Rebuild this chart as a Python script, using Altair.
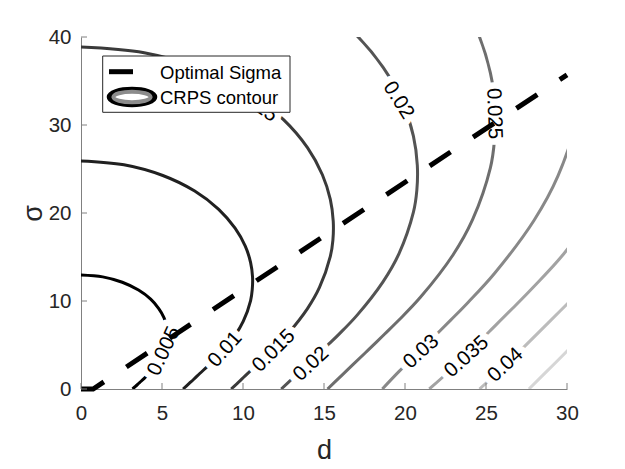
import altair as alt
import pandas as pd

FONT = "Liberation Sans"

levels = ["0.005", "0.01", "0.015", "0.02", "0.025", "0.03", "0.035", "0.04", "0.045"]
level_colors = ["#000000", "#202020", "#3a3a3a", "#545454", "#6e6e6e",
                "#888888", "#a2a2a2", "#bcbcbc", "#d6d6d6"]

# contour lines (d, sigma)
c005_d = [0, 1.34, 2.55, 3.55, 4.30, 4.80, 5.12, 5.28, 5.35, 5.34, 5.28, 5.06, 4.80, 4.38, 4.10, 3.92, 3.71, 3.51, 3.38, 3.18]
c005_s = [12.96, 12.74, 12.13, 11.24, 10.21, 9.14, 8.12, 7.18, 6.36, 5.64, 5.03, 3.85, 3.05, 2.08, 1.56, 1.24, 0.88, 0.56, 0.32, 0]
c010_d = [0, 2.65, 5.05, 7.02, 8.50, 9.51, 10.14, 10.47, 10.59, 10.57, 10.47, 10.02, 9.51, 8.68, 8.12, 7.76, 7.33, 6.96, 6.68, 6.30]
c010_s = [25.92, 25.48, 24.26, 22.49, 20.41, 18.27, 16.23, 14.37, 12.72, 11.28, 10.05, 7.70, 6.09, 4.17, 3.12, 2.49, 1.76, 1.11, 0.64, 0]
c015_d = [0, 3.90, 7.43, 10.33, 12.50, 13.99, 14.90, 15.39, 15.57, 15.55, 15.39, 14.72, 13.98, 12.76, 11.95, 11.41, 10.79, 10.23, 9.83, 9.27]
c015_s = [38.87, 38.22, 36.40, 33.73, 30.62, 27.41, 24.35, 21.55, 19.07, 16.93, 15.08, 11.54, 9.14, 6.25, 4.68, 3.73, 2.64, 1.67, 0.96, 0]
c020_d = [9.90, 13.77, 16.66, 18.65, 19.87, 20.52, 20.76, 20.73, 20.52, 19.63, 18.64, 17.02, 15.93, 15.22, 14.39, 13.64, 13.10, 12.36]
c020_s = [48.53, 44.97, 40.82, 36.55, 32.46, 28.73, 25.43, 22.57, 20.10, 15.39, 12.18, 8.34, 6.24, 4.97, 3.52, 2.23, 1.28, 0]
c025_d = [20.52, 22.96, 24.47, 25.27, 25.57, 25.52, 25.27, 24.17, 22.96, 20.95, 19.61, 18.73, 17.72, 16.80, 16.13, 15.22]
c025_s = [51.03, 45.69, 40.58, 35.92, 31.79, 28.21, 25.13, 19.24, 15.23, 10.42, 7.81, 6.22, 4.41, 2.79, 1.61, 0]
c030_d = [31.09, 30.77, 29.45, 27.97, 25.52, 23.89, 22.82, 21.58, 20.47, 19.65, 18.60]
c030_s = [35.54, 31.67, 24.24, 19.18, 13.13, 9.84, 7.83, 5.55, 3.51, 2.03, 0]
c035_d = [32.63, 29.78, 27.87, 26.63, 25.18, 23.88, 22.93, 21.50]
c035_s = [22.39, 15.32, 11.48, 9.14, 6.48, 4.10, 2.36, 0]
c040_d = [34.03, 31.86, 30.43, 28.78, 27.29, 26.20, 24.60]
c040_s = [17.50, 13.11, 10.44, 7.40, 4.68, 2.70, 0]
c045_d = [32.30, 30.60, 29.35, 27.65]
c045_s = [8.50, 5.40, 3.10, 0]

# optimal sigma line
opt_d = [0, 0.75, 30]
opt_s = [0, 0, 35.7]

# inline contour labels
label_text = ["0.005", "0.01", "0.015", "0.02", "0.03", "0.035", "0.04", "0.02", "0.025", "0.015"]
label_d = [5.12, 8.9, 11.9, 14.2, 21.0, 23.8, 26.2, 19.6, 25.5, 10.7]
label_s = [4.3, 4.5, 4.35, 2.84, 4.24, 3.67, 2.73, 32.8, 31.3, 32.5]
label_angle = [295, 312, 315, 317, 318, 318, 317, 58, 88, 35]

x_ticks = [0, 5, 10, 15, 20, 25, 30]
y_ticks = [0, 10, 20, 30, 40]

W, H = 486, 352

contour_lists = [(c005_d, c005_s), (c010_d, c010_s), (c015_d, c015_s), (c020_d, c020_s),
                 (c025_d, c025_s), (c030_d, c030_s), (c035_d, c035_s), (c040_d, c040_s),
                 (c045_d, c045_s)]
rows = []
for lev, (ds, ss) in zip(levels, contour_lists):
    for i, (d, s) in enumerate(zip(ds, ss)):
        rows.append({"level": lev, "i": i, "d": d, "s": s})
cont_df = pd.DataFrame(rows)
opt_df = pd.DataFrame({"d": opt_d, "s": opt_s, "i": list(range(len(opt_d)))})
lab_df = pd.DataFrame({"text": label_text, "d": label_d, "s": label_s, "angle": label_angle})
xt_df = pd.DataFrame({"d": x_ticks})
yt_df = pd.DataFrame({"s": y_ticks})
one = pd.DataFrame({"a": [0]})

xs = alt.Scale(domain=[0, 30], nice=False, zero=False)
ys = alt.Scale(domain=[0, 40], nice=False, zero=False)

x_axis = alt.Axis(values=x_ticks, ticks=False, grid=False, domainColor="#808080",
                  labelFontSize=20.5, labelFont=FONT, labelColor="#262626",
                  labelPadding=14, labelFlush=False,
                  titleFontSize=27, titleFont=FONT, titleFontWeight="normal",
                  titleColor="#262626", titleX=243, titleY=61, titleBaseline="middle")
y_axis = alt.Axis(values=y_ticks, ticks=False, grid=False, domainColor="#808080",
                  labelFontSize=20.5, labelFont=FONT, labelColor="#262626",
                  labelPadding=10, labelFlush=False,
                  titleFontSize=27, titleFont=FONT, titleFontWeight="normal",
                  titleColor="#262626", titleX=-48, titleY=176, titleAngle=270,
                  titleBaseline="middle", titleAlign="center")


def X(field="d"):
    return alt.X(f"{field}:Q", scale=xs, axis=x_axis, title="d")


def Y(field="s"):
    return alt.Y(f"{field}:Q", scale=ys, axis=y_axis, title="σ")


contours = alt.Chart(cont_df).mark_line(strokeWidth=3, clip=True, interpolate="catmull-rom").encode(
    x=X(), y=Y(),
    color=alt.Color("level:N", scale=alt.Scale(domain=levels, range=level_colors), legend=None),
    detail="level:N",
    order=alt.Order("i:Q"),
)

halo = alt.Chart(lab_df).mark_text(font=FONT, fontSize=20.5, fill="white", stroke="white",
                                   strokeWidth=13, strokeJoin="round").encode(
    x=X(), y=Y(), text="text:N",
    angle=alt.Angle("angle:Q", scale=None),
)
labels = alt.Chart(lab_df).mark_text(font=FONT, fontSize=20.5, color="black").encode(
    x=X(), y=Y(), text="text:N",
    angle=alt.Angle("angle:Q", scale=None),
)

opt = alt.Chart(opt_df).mark_line(color="black", strokeWidth=5, strokeDash=[25, 27],
                                  strokeCap="butt").encode(
    x=X(), y=Y(), order=alt.Order("i:Q"),
)

xt = alt.Chart(xt_df).mark_rule(color="#808080", strokeWidth=1).encode(
    x=X(), y=alt.value(H), y2=alt.value(H - 6))
yt = alt.Chart(yt_df).mark_rule(color="#808080", strokeWidth=1).encode(
    y=Y(), x=alt.value(0), x2=alt.value(6))

# legend box
leg_box = alt.Chart(one).mark_rect(fill="white", stroke="#262626", strokeWidth=1).encode(
    x=alt.value(21.7), x2=alt.value(209), y=alt.value(19), y2=alt.value(75.3))
leg_line = alt.Chart(one).mark_rule(color="black", strokeWidth=5).encode(
    x=alt.value(28), x2=alt.value(52), y=alt.value(34.7))
leg_t1 = alt.Chart(one).mark_text(text="Optimal Sigma", font=FONT, fontSize=18.5, align="left",
                                  baseline="middle", color="black").encode(
    x=alt.value(79), y=alt.value(36))
ell_outer = "M-1,0A1,0.34 0 1,0 1,0A1,0.34 0 1,0 -1,0Z"
ell_inner = "M-1,0A1,0.29 0 1,0 1,0A1,0.29 0 1,0 -1,0Z"
leg_e1 = alt.Chart(one).mark_point(shape=ell_outer, size=2079, filled=False, stroke="black",
                                   strokeWidth=5, opacity=1).encode(
    x=alt.value(51), y=alt.value(60))
leg_e2 = alt.Chart(one).mark_point(shape=ell_inner, size=1369, filled=False, stroke="#8c8c8c",
                                   strokeWidth=4, opacity=1).encode(
    x=alt.value(51), y=alt.value(60))
leg_t2 = alt.Chart(one).mark_text(text="CRPS contour", font=FONT, fontSize=18.5, align="left",
                                  baseline="middle", color="black").encode(
    x=alt.value(79), y=alt.value(61))

chart = alt.layer(
    contours, halo, labels, opt, xt, yt,
    leg_box, leg_line, leg_t1, leg_e1, leg_e2, leg_t2,
).properties(
    width=W, height=H,
    autosize=alt.AutoSizeParams(type="none"),
    padding={"left": 81, "top": 37, "right": 58, "bottom": 80},
    background="white",
).configure_view(stroke=None)

chart.save("out.html", embed_options={"renderer": "svg", "actions": False})
